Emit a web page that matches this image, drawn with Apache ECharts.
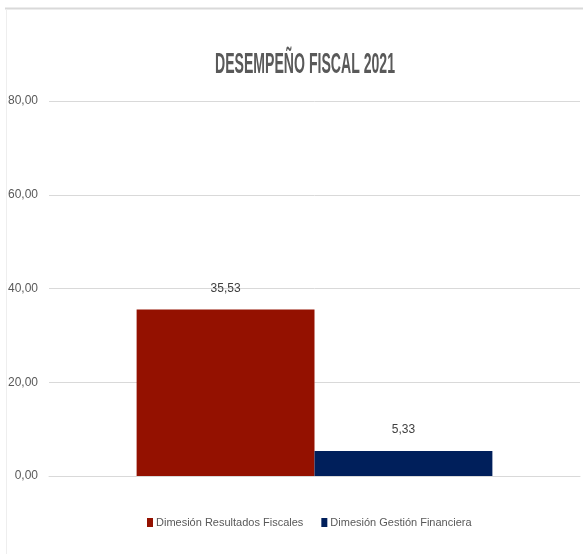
<!DOCTYPE html>
<html>
<head>
<meta charset="utf-8">
<script src="https://cdn.jsdelivr.net/npm/echarts@6/dist/echarts.min.js"></script>
<style>
  html, body { margin: 0; padding: 0; background: #fff; }
  #main { width: 583px; height: 554px; }
</style>
</head>
<body>
<div id="main"></div>
<script>
var categories = ["2021"];
var seriesNames = ["Dimesión Resultados Fiscales", "Dimesión Gestión Financiera"];
var resultadosFiscales = [35.53];
var gestionFinanciera = [5.33];
var yTicks = [0, 20, 40, 60, 80];
var titleText = "DESEMPEÑO FISCAL 2021";

var font = '"Liberation Sans", Arial, sans-serif';

function fmt(v) {
  return Number(v).toFixed(2).replace(".", ",");
}

// squeeze the title to the narrow width of the original (condensed font)
var ctx = document.createElement("canvas").getContext("2d");
ctx.font = "bold 29px " + font;
var titleScale = 180 / ctx.measureText(titleText).width;

var chart = echarts.init(document.getElementById("main"));
chart.setOption({
  animation: false,
  backgroundColor: "#ffffff",
  graphic: [
    {
      type: "line",
      shape: { x1: 5, y1: 8.5, x2: 583, y2: 8.5 },
      style: { stroke: "#d9d9d9", lineWidth: 2 },
      silent: true
    },
    {
      type: "line",
      shape: { x1: 6.5, y1: 9, x2: 6.5, y2: 554 },
      style: { stroke: "#eeeeee", lineWidth: 1 },
      silent: true
    },
    {
      type: "text",
      x: 305,
      y: 65,
      scaleX: titleScale,
      style: {
        text: titleText,
        font: "bold 29px " + font,
        fill: "#595959",
        textAlign: "center",
        textVerticalAlign: "middle"
      },
      silent: true
    }
  ],
  legend: {
    bottom: 21,
    left: 142,
    itemWidth: 6,
    itemHeight: 9,
    itemGap: 18,
    icon: "rect",
    textStyle: {
      fontFamily: font,
      fontSize: 11,
      color: "#595959",
      padding: [0, 0, 0, -2]
    },
    data: seriesNames
  },
  grid: { left: 49, right: 3, top: 101, bottom: 78 },
  xAxis: {
    type: "category",
    data: categories,
    axisLine: { show: true, lineStyle: { color: "#d9d9d9" } },
    axisTick: { show: false },
    axisLabel: { show: false }
  },
  yAxis: {
    type: "value",
    min: yTicks[0],
    max: yTicks[yTicks.length - 1],
    interval: 20,
    axisLine: { show: false },
    axisTick: { show: false },
    splitLine: { lineStyle: { color: "#d9d9d9", width: 1 } },
    axisLabel: {
      margin: 11,
      fontFamily: font,
      fontSize: 12,
      color: "#595959",
      formatter: fmt
    }
  },
  series: [
    {
      name: seriesNames[0],
      type: "bar",
      data: resultadosFiscales,
      barGap: "0%",
      barCategoryGap: "33%",
      itemStyle: { color: "#941100" },
      label: {
        show: true,
        position: "top",
        distance: 15,
        fontFamily: font,
        fontSize: 12,
        color: "#404040",
        formatter: function (p) { return fmt(p.value); }
      }
    },
    {
      name: seriesNames[1],
      type: "bar",
      data: gestionFinanciera,
      barGap: "0%",
      barCategoryGap: "33%",
      itemStyle: { color: "#001f5b" },
      label: {
        show: true,
        position: "top",
        distance: 15,
        fontFamily: font,
        fontSize: 12,
        color: "#404040",
        formatter: function (p) { return fmt(p.value); }
      }
    }
  ]
});
</script>
</body>
</html>
